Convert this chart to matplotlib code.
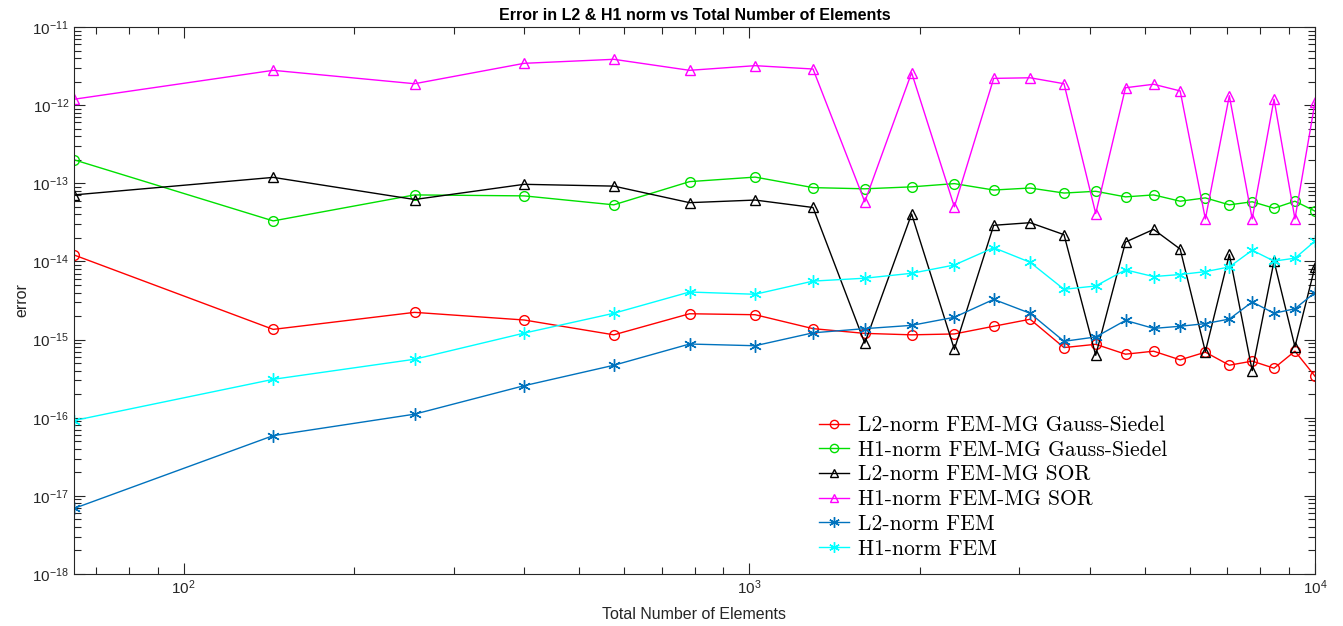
import matplotlib
matplotlib.use("Agg")
import matplotlib.pyplot as plt
from matplotlib.ticker import FixedLocator, NullFormatter

# total number of elements (square meshes 8x8 ... 100x100)
n_side = [8, 12, 16, 20, 24, 28, 32, 36, 40, 44, 48, 52, 56, 60, 64, 68, 72, 76, 80, 84, 88, 92, 96, 100]
elements = [n * n for n in n_side]

l2_gs = [1.21e-14, 1.35e-15, 2.23e-15, 1.78e-15, 1.15e-15, 2.14e-15, 2.08e-15, 1.38e-15,
         1.2e-15, 1.15e-15, 1.18e-15, 1.48e-15, 1.82e-15, 7.9e-16, 8.7e-16, 6.5e-16,
         7.1e-16, 5.5e-16, 6.9e-16, 4.7e-16, 5.3e-16, 4.3e-16, 7.1e-16, 3.4e-16]
h1_gs = [2.0e-13, 3.3e-14, 7.1e-14, 6.9e-14, 5.3e-14, 1.05e-13, 1.2e-13, 8.8e-14,
         8.5e-14, 9.0e-14, 9.9e-14, 8.2e-14, 8.7e-14, 7.5e-14, 7.9e-14, 6.7e-14,
         7.1e-14, 5.9e-14, 6.5e-14, 5.3e-14, 5.8e-14, 4.8e-14, 5.9e-14, 4.4e-14]
l2_sor = [7.1e-14, 1.19e-13, 6.2e-14, 9.7e-14, 9.2e-14, 5.65e-14, 6.1e-14, 4.9e-14,
          9.0e-16, 4.05e-14, 7.5e-16, 2.9e-14, 3.13e-14, 2.2e-14, 6.3e-16, 1.77e-14,
          2.57e-14, 1.44e-14, 7.0e-16, 1.23e-14, 4.0e-16, 1.01e-14, 8.1e-16, 8.6e-15]
h1_sor = [1.19e-12, 2.79e-12, 1.88e-12, 3.43e-12, 3.86e-12, 2.79e-12, 3.2e-12, 2.9e-12,
          5.8e-14, 2.6e-12, 5.0e-14, 2.2e-12, 2.24e-12, 1.88e-12, 4.1e-14, 1.67e-12,
          1.85e-12, 1.52e-12, 3.5e-14, 1.32e-12, 3.5e-14, 1.19e-12, 3.5e-14, 1.09e-12]
l2_fem = [6.9e-18, 5.9e-17, 1.11e-16, 2.57e-16, 4.69e-16, 8.77e-16, 8.34e-16, 1.22e-15,
          1.38e-15, 1.52e-15, 1.93e-15, 3.27e-15, 2.17e-15, 9.5e-16, 1.08e-15, 1.76e-15,
          1.39e-15, 1.48e-15, 1.6e-15, 1.83e-15, 3.03e-15, 2.17e-15, 2.48e-15, 4.0e-15]
h1_fem = [9.2e-17, 3.1e-16, 5.6e-16, 1.21e-15, 2.17e-15, 4.06e-15, 3.8e-15, 5.6e-15,
          6.1e-15, 7.05e-15, 9.0e-15, 1.5e-14, 9.75e-15, 4.4e-15, 4.85e-15, 7.8e-15,
          6.4e-15, 6.8e-15, 7.4e-15, 8.5e-15, 1.39e-14, 1.01e-14, 1.1e-14, 1.82e-14]

labels = ["L2-norm FEM-MG Gauss-Siedel", "H1-norm FEM-MG Gauss-Siedel",
          "L2-norm FEM-MG SOR", "H1-norm FEM-MG SOR",
          "L2-norm FEM", "H1-norm FEM"]

plt.rcParams['font.family'] = ['Liberation Sans', 'DejaVu Sans']

fig = plt.figure(figsize=(13.43, 6.26), dpi=100)
ax = fig.add_axes([74 / 1343, 1 - 574 / 626, (1315 - 74) / 1343, (574 - 27) / 626])

star = (6, 2, 0)
ax.plot(elements, l2_gs, color='#ff0000', marker='o', mfc='none', ms=7, lw=1, label=labels[0])
ax.plot(elements, h1_gs, color='#00e000', marker='o', mfc='none', ms=7, lw=1, label=labels[1])
ax.plot(elements, l2_sor, color='#000000', marker='^', mfc='none', ms=7.5, lw=1, label=labels[2])
ax.plot(elements, h1_sor, color='#ff00ff', marker='^', mfc='none', ms=7.5, lw=1, label=labels[3])
ax.plot(elements, l2_fem, color='#0072bd', marker=star, ms=9, lw=1, label=labels[4])
ax.plot(elements, h1_fem, color='#00ffff', marker=star, ms=9, lw=1, label=labels[5])

ax.set_xscale('log')
ax.set_yscale('log')
ax.set_xlim(64, 10000)
ax.set_ylim(1e-18, 1e-11)

# decade ticks plus 2..9 minor ticks, kept inside the limits
decades = list(range(-18, -10))
ax.yaxis.set_major_locator(FixedLocator([10.0 ** d for d in decades]))
ax.yaxis.set_minor_locator(FixedLocator([k * 10.0 ** d for d in decades[:-1] for k in range(2, 10)]))
ax.xaxis.set_major_locator(FixedLocator([1e2, 1e3, 1e4]))
ax.xaxis.set_minor_locator(FixedLocator([k * 10.0 ** d for d in (1, 2, 3) for k in range(2, 10)
                                         if 64 < k * 10.0 ** d < 10000]))
ax.yaxis.set_minor_formatter(NullFormatter())
ax.xaxis.set_minor_formatter(NullFormatter())

axis_col = '#262626'
for s in ax.spines.values():
    s.set_color(axis_col)
    s.set_linewidth(0.8)
ax.tick_params(which='both', direction='in', top=True, right=True, colors=axis_col,
               labelsize=11, width=0.8)
ax.tick_params(which='major', length=8)
ax.tick_params(which='minor', length=5)

ax.set_title("Error in L2 & H1 norm vs Total Number of Elements", fontsize=11.5,
             fontweight='bold', pad=5)
ax.set_xlabel("Total Number of Elements", fontsize=11.5, color=axis_col, labelpad=7)
ax.set_ylabel("error", fontsize=11.5, color=axis_col, labelpad=2)

ax.legend(loc='upper left', bbox_to_anchor=(810 / 1343, 1 - 407 / 626),
          bbox_transform=fig.transFigure, frameon=False,
          prop={'family': 'cmr10', 'size': 15.5}, handlelength=1.4,
          handletextpad=0.45, labelspacing=0.24, borderaxespad=0, markerscale=0.85)

fig.savefig("out.png", dpi=100)
